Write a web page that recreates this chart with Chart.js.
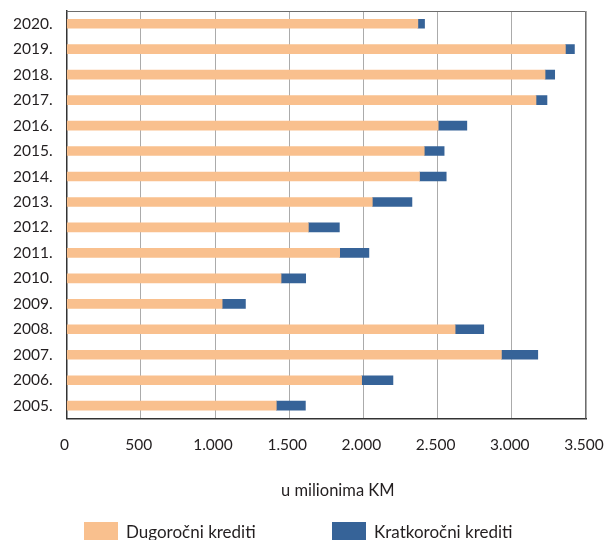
<!DOCTYPE html>
<html>
<head>
<meta charset="utf-8">
<script src="https://cdn.jsdelivr.net/npm/chart.js@4.4.1/dist/chart.umd.min.js"></script>
<style>
    body { margin: 0; background: #fff; }
    #wrap { position: relative; width: 604px; height: 540px; font-family: Lato, sans-serif; color: #231f20; }
    #loansChart { position: absolute; left: 0; top: 0; }
    #axisTitle { position: absolute; left: 281px; top: 480px; font-size: 16.5px; white-space: nowrap; }
    .legend { position: absolute; top: 522px; font-size: 17px; white-space: nowrap; line-height: 20px; }
    .legend span.box { display: inline-block; width: 34px; height: 20px; vertical-align: top; margin-right: 8px; }
</style>
</head>
<body>
<div id="wrap">
    <canvas id="loansChart" width="604" height="540"></canvas>
    <div id="axisTitle">u milionima KM</div>
    <div class="legend" style="left:84px"><span class="box" style="background:#f9c08e"></span>Dugoročni krediti</div>
    <div class="legend" style="left:332px"><span class="box" style="background:#366398"></span>Kratkoročni krediti</div>
</div>
<script>
// Years (bottom to top in the chart)
const years = ['2005.', '2006.', '2007.', '2008.', '2009.', '2010.', '2011.', '2012.',
    '2013.', '2014.', '2015.', '2016.', '2017.', '2018.', '2019.', '2020.'];

// Long-term and short-term loans, millions KM
const longTerm = [1413, 1988, 2930, 2618, 1048, 1445, 1840, 1629,
    2060, 2378, 2410, 2504, 3163, 3224, 3361, 2367];
const shortTerm = [196, 211, 245, 193, 157, 166, 197, 209,
    267, 180, 134, 193, 74, 65, 61, 45];

const xTicks = [0, 500, 1000, 1500, 2000, 2500, 3000, 3500];

// Frame around the plot area (top and right sides)
const frame = {
    id: 'frame',
    afterDraw(chart) {
        const a = chart.chartArea;
        const c = chart.ctx;
        c.save();
        c.strokeStyle = '#6d6d6d';
        c.lineWidth = 1;
        c.beginPath();
        c.moveTo(a.left, a.top + 0.5);
        c.lineTo(a.right - 0.5, a.top + 0.5);
        c.lineTo(a.right - 0.5, a.bottom);
        c.stroke();
        c.restore();
    }
};

const ctx = document.getElementById('loansChart').getContext('2d');
new Chart(ctx, {
    type: 'bar',
    data: {
        labels: years,
        datasets: [{
            label: 'Dugoročni krediti',
            data: longTerm,
            backgroundColor: '#f9c08e',
            barThickness: 9
        }, {
            label: 'Kratkoročni krediti',
            data: shortTerm,
            backgroundColor: '#366398',
            barThickness: 9
        }]
    },
    options: {
        indexAxis: 'y',
        responsive: false,
        animation: false,
        layout: {
            padding: { left: 13, right: 18, top: 11, bottom: 86 }
        },
        scales: {
            x: {
                stacked: true,
                min: 0,
                max: 3500,
                afterBuildTicks: axis => { axis.ticks = xTicks.map(v => ({ value: v })); },
                // chart.js reserves the tick padding twice, take one back
                afterFit: axis => {
                    axis.paddingLeft = 0;
                    axis.paddingRight = 0;
                    axis.height -= 17;
                },
                ticks: {
                    color: '#231f20',
                    font: { family: 'Lato', size: 15.5 },
                    padding: 17,
                    labelOffset: -2,
                    maxRotation: 0,
                    callback: v => v.toLocaleString('de-DE')
                },
                grid: {
                    color: '#ababab',
                    lineWidth: 1,
                    drawTicks: false
                },
                border: { color: '#333', width: 1.5 }
            },
            y: {
                stacked: true,
                reverse: true,
                afterFit: axis => {
                    axis.paddingTop = 0;
                    axis.paddingBottom = 0;
                    axis.width -= 14;
                },
                ticks: {
                    color: '#231f20',
                    font: { family: 'Lato', size: 15.5 },
                    padding: 14
                },
                grid: { display: false, drawTicks: false },
                border: { color: '#333', width: 1.5 }
            }
        },
        plugins: {
            legend: { display: false },
            tooltip: { enabled: false }
        }
    },
    plugins: [frame]
});
</script>
</body>
</html>
